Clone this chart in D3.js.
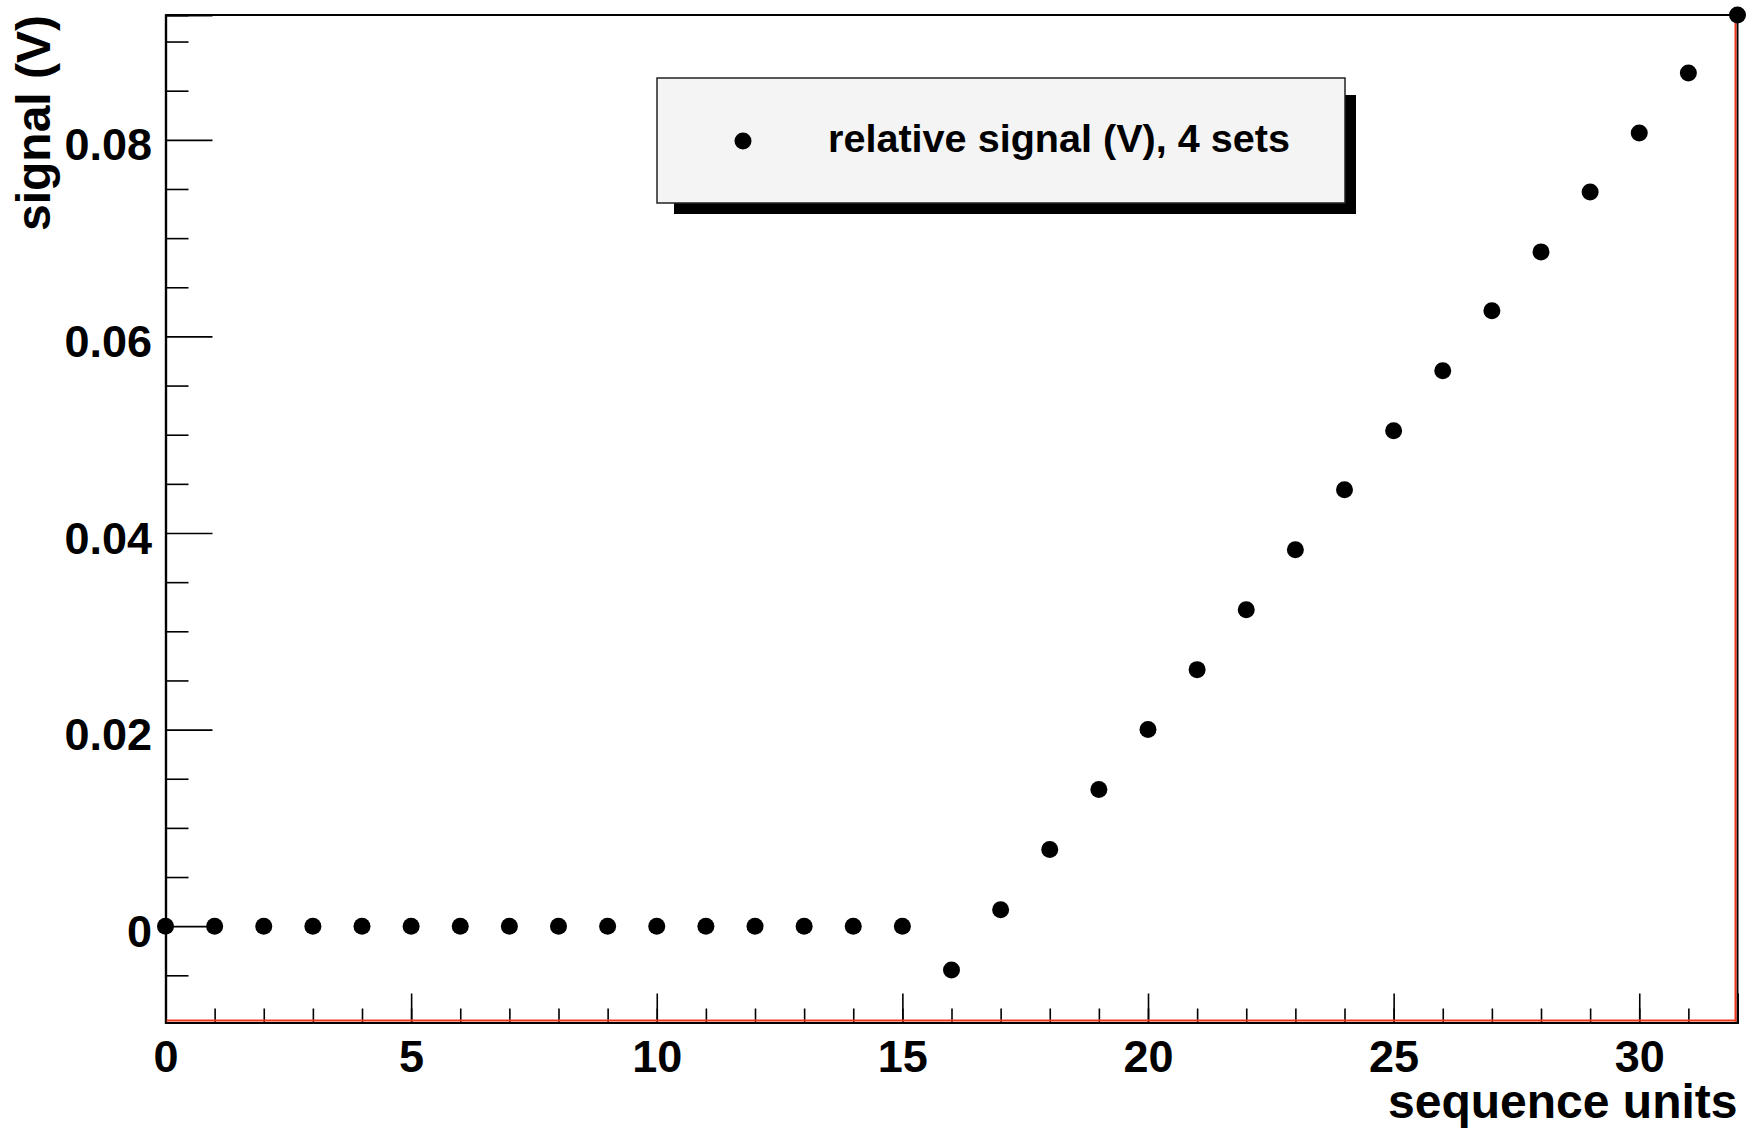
<!DOCTYPE html>
<html>
<head>
<meta charset="utf-8">
<script src="https://cdn.jsdelivr.net/npm/d3@7"></script>
<style>
  html, body { margin: 0; padding: 0; background: #fff; }
  svg { display: block; }
  text { font-family: "Liberation Sans", Arial, Helvetica, sans-serif; font-weight: bold; fill: #000; }
</style>
</head>
<body>
<svg id="chart" width="1749" height="1132"></svg>
<script>
// ---- data ----
const sequenceUnits = [0,1,2,3,4,5,6,7,8,9,10,11,12,13,14,15,16,17,18,19,20,21,22,23,24,25,26,27,28,29,30,31,32];
const signalValues = [0,0,0,0,0,0,0,0,0,0,0,0,0,0,0,0,
  -0.00447,0.00167,0.0078,0.0139,0.0200,0.0261,0.0322,0.0383,0.0444,0.0504,0.0565,0.0626,0.0686,0.0747,0.0807,0.0868,0.0927];
const xMajorTicks = [0,5,10,15,20,25,30];
const xMinorTicks = [0,1,2,3,4,5,6,7,8,9,10,11,12,13,14,15,16,17,18,19,20,21,22,23,24,25,26,27,28,29,30,31];
const yMajorTicks = [0,0.02,0.04,0.06,0.08];
const yMajorLabels = ["0","0.02","0.04","0.06","0.08"];
const yMinorTicks = [-0.005,0.005,0.01,0.015,0.025,0.03,0.035,0.045,0.05,0.055,0.065,0.07,0.075,0.085,0.09];
const legendLabel = "relative signal (V), 4 sets";
const xTitle = "sequence units";
const yTitle = "signal (V)";

// ---- layout ----
const L = 165.5, R = 1737.5, T = 15, B = 1022.5;
const svg = d3.select("#chart");
const x = d3.scaleLinear().domain([0, 32]).range([L, R]);
const y = d3.scaleLinear().domain([-0.0098, 0.0927]).range([B, T]);

// frame top/right
svg.append("line").attr("x1", L).attr("x2", R).attr("y1", T).attr("y2", T)
  .attr("stroke", "#000").attr("stroke-width", 2);
svg.append("line").attr("x1", R).attr("x2", R).attr("y1", T).attr("y2", B + 1)
  .attr("stroke", "#000").attr("stroke-width", 2);

// x axis
const gxMinor = svg.append("g").attr("transform", `translate(0,${B})`)
  .call(d3.axisBottom(x).tickValues(xMinorTicks).tickSize(-14).tickFormat(""));
const gx = svg.append("g").attr("transform", `translate(0,${B})`)
  .call(d3.axisBottom(x).tickValues(xMajorTicks).tickSize(-29).tickPadding(0).tickFormat(d3.format("d")));
[gxMinor, gx].forEach(g => {
  g.select(".domain").attr("stroke", "#000").attr("stroke-width", 2);
  g.selectAll(".tick line").attr("stroke", "#000").attr("stroke-width", 1.6);
});
gx.selectAll(".tick text").attr("font-size", 45).attr("font-family", null)
  .attr("y", 49).attr("dy", 0).attr("fill", "#000");

// y axis
const gyMinor = svg.append("g").attr("transform", `translate(${L},0)`)
  .call(d3.axisLeft(y).tickValues(yMinorTicks).tickSize(-23).tickFormat(""));
const gy = svg.append("g").attr("transform", `translate(${L},0)`)
  .call(d3.axisLeft(y).tickValues(yMajorTicks).tickSize(-47).tickPadding(13.5)
    .tickFormat((d, i) => yMajorLabels[i]));
[gyMinor, gy].forEach(g => {
  g.select(".domain").attr("stroke", "#000").attr("stroke-width", 2.2);
  g.selectAll(".tick line").attr("stroke", "#000").attr("stroke-width", 1.6);
});
gy.selectAll(".tick text").attr("font-size", 45).attr("font-family", null)
  .attr("dy", 20).attr("fill", "#000");

// red lines (just inside bottom and right frame)
svg.append("line").attr("x1", L + 1).attr("x2", R - 1).attr("y1", B - 2).attr("y2", B - 2)
  .attr("stroke", "#f0381c").attr("stroke-width", 2);
svg.append("line").attr("x1", R - 2).attr("x2", R - 2).attr("y1", T + 1).attr("y2", B - 1)
  .attr("stroke", "#f0381c").attr("stroke-width", 2);

// axis titles
svg.append("text").attr("x", R).attr("y", 1118).attr("text-anchor", "end")
  .attr("font-size", 48).text(xTitle);
svg.append("text").attr("transform", `translate(50,${T}) rotate(-90)`)
  .attr("text-anchor", "end").attr("font-size", 48).text(yTitle);

// points
svg.append("g").selectAll("circle")
  .data(sequenceUnits.map((u, i) => [u, signalValues[i]]))
  .join("circle")
  .attr("cx", d => x(d[0])).attr("cy", d => y(d[1])).attr("r", 8.5).attr("fill", "#000");

// legend
const lg = svg.append("g");
lg.append("rect").attr("x", 674).attr("y", 95).attr("width", 682).attr("height", 119).attr("fill", "#000");
lg.append("rect").attr("x", 657).attr("y", 78).attr("width", 688).attr("height", 125)
  .attr("fill", "#f4f4f4").attr("stroke", "#222").attr("stroke-width", 1.5);
lg.append("circle").attr("cx", 743).attr("cy", 141).attr("r", 8.5).attr("fill", "#000");
lg.append("text").attr("x", 828).attr("y", 152).attr("font-size", 39)
  .attr("textLength", 462).attr("lengthAdjust", "spacingAndGlyphs").text(legendLabel);
</script>
</body>
</html>
